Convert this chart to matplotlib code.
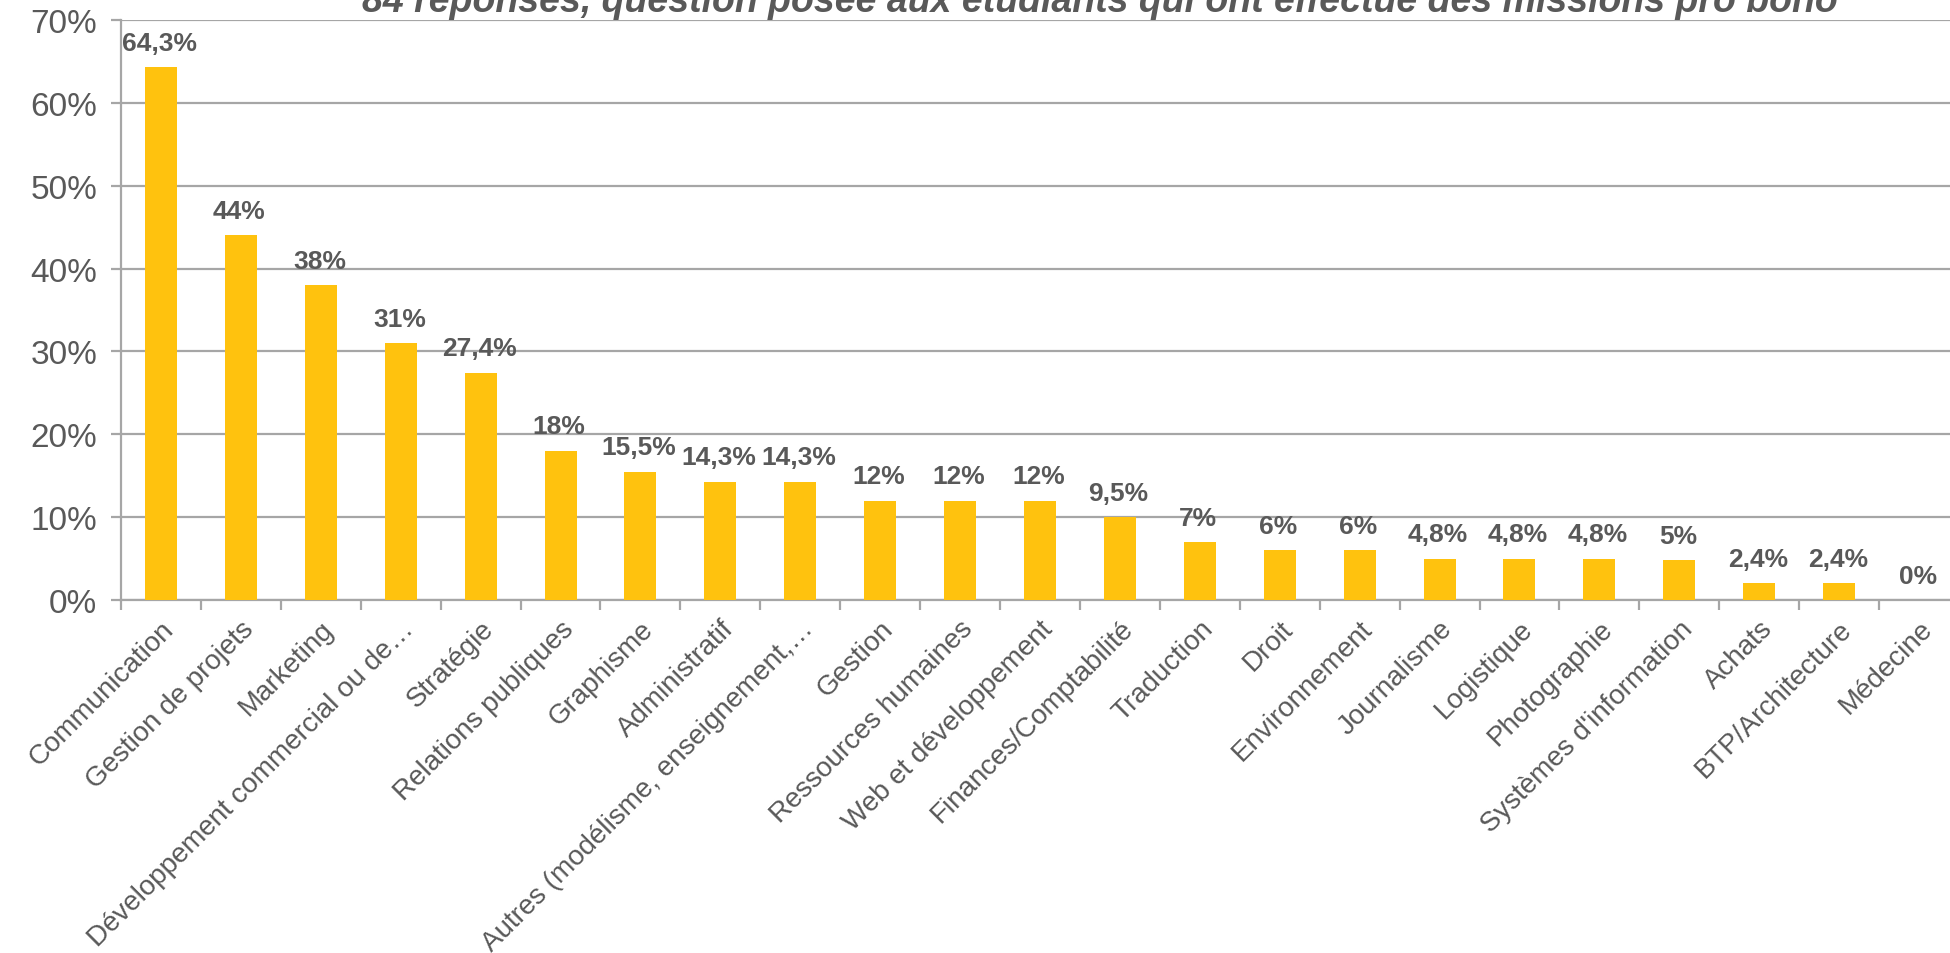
import numpy as np
import matplotlib
matplotlib.use("Agg")
import matplotlib.pyplot as plt
from matplotlib.ticker import FuncFormatter

plt.rcParams['font.family'] = ['Liberation Sans', 'DejaVu Sans']

# data
categories = ['Communication', 'Gestion de projets', 'Marketing',
              'Développement commercial ou de…', 'Stratégie',
              'Relations publiques', 'Graphisme', 'Administratif',
              'Autres (modélisme, enseignement,…', 'Gestion',
              'Ressources humaines', 'Web et développement',
              'Finances/Comptabilité', 'Traduction', 'Droit',
              'Environnement', 'Journalisme', 'Logistique', 'Photographie',
              "Systèmes d'information", 'Achats', 'BTP/Architecture',
              'Médecine']
values = [64.3, 44, 38, 31, 27.4, 18, 15.5, 14.3, 14.3, 12, 12, 12, 10,
          7, 6, 6, 5, 5, 5, 4.8, 2, 2, 0]
value_labels = ['64,3%', '44%', '38%', '31%', '27,4%', '18%', '15,5%',
                '14,3%', '14,3%', '12%', '12%', '12%', '9,5%', '7%', '6%',
                '6%', '4,8%', '4,8%', '4,8%', '5%', '2,4%', '2,4%', '0%']
title = "84 réponses, question posée aux étudiants qui ont effectué des missions pro bono"

bar_color = '#FFC20E'
text_gray = '#595959'
grid_gray = '#A6A6A6'

fig = plt.figure(figsize=(19.5, 9.54), dpi=100)
ax = fig.add_axes([121 / 1950, 353 / 954, 1838 / 1950, 580 / 954])

x = np.arange(len(categories))
ax.bar(x, values, width=0.4, color=bar_color, zorder=3)

for xi, v, lab in zip(x, values, value_labels):
    ax.annotate(lab, (xi, v), xytext=(-1, 9), textcoords='offset points',
                ha='center', va='bottom', fontsize=19, fontweight='bold',
                color=text_gray)

ax.set_xlim(-0.5, len(categories) - 0.5)
ax.set_ylim(0, 70)
ax.set_yticks(np.arange(0, 71, 10))
ax.yaxis.set_major_formatter(FuncFormatter(lambda v, p: f'{v:.0f}%'))
ax.grid(axis='y', color=grid_gray, linewidth=1.6, zorder=0)

ax.set_xticks(x)
ax.set_xticklabels(categories, rotation=45, ha='right',
                   rotation_mode='anchor', fontsize=20, color=text_gray)
ax.set_xticks(np.arange(-0.5, len(categories), 1), minor=True)
ax.tick_params(axis='x', which='major', length=0, pad=11)
ax.tick_params(axis='x', which='minor', length=7, width=1.6, color=grid_gray)
ax.tick_params(axis='y', length=7, width=1.6, color=grid_gray, pad=10,
               labelsize=24, labelcolor=text_gray)

for side in ['top', 'right']:
    ax.spines[side].set_visible(False)
for side in ['left', 'bottom']:
    ax.spines[side].set_color(grid_gray)
    ax.spines[side].set_linewidth(1.6)

fig.text(1100 / 1950, 942 / 954, title, ha='center', va='baseline',
         fontsize=27, fontweight='bold', fontstyle='italic', color=text_gray)

fig.savefig('out.png', dpi=100)
